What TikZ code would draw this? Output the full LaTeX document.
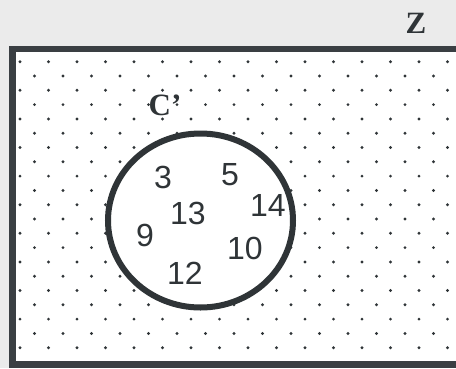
\documentclass[tikz,border=0pt]{standalone}
\usepackage{fontspec}
\setmainfont{Liberation Serif}
\newfontfamily\numfont{Liberation Sans}
\usetikzlibrary{shapes.geometric}
\definecolor{cframe}{HTML}{3A3F43}
\definecolor{cpaper}{HTML}{EBEBEB}
\definecolor{cink}{HTML}{2F3437}
\tikzset{
  elem/.style={font=\numfont\fontsize{32}{32}\selectfont, text=cink, inner sep=0pt},
  setlbl/.style={font=\bfseries\fontsize{31}{31}\selectfont, text=cink, inner sep=0pt},
  setc/.style={draw=cink, line width=6pt, fill=white, ellipse, minimum width=185pt, minimum height=174pt, inner sep=0pt},
  frame/.style={draw=cframe, line width=6.5pt, fill=white},
}

\begin{document}
\begin{tikzpicture}[x=1pt, y=-1pt]
\useasboundingbox (0,0) rectangle (456,368);
\clip (0,0) rectangle (456,368);
\fill[cpaper] (0,0) rectangle (456,368);
% universe
\draw[frame] (12.5,49.2) rectangle (470,364.6);
\node[setlbl] (lz) at (416,23) {Z};
\foreach \j in {0,2,...,20}
  \foreach \k in {0,...,15}
    \fill[cink] (20+28.5*\k, 61.7+14.3*\j) circle (1.6);
\foreach \j in {1,3,...,19}
  \foreach \k in {0,...,14}
    \fill[cink] (34.5+28.5*\k, 61.7+14.3*\j) circle (1.6);
% set C'
\node[setc] (c) at (200.5,220.5) {};
\node[setlbl] (lc) at (165,105) {C'};
\node[elem] (e3) at (163,177) {3};
\node[elem] (e5) at (230,175) {5};
\node[elem] (e14) at (268,205) {14};
\node[elem] (e13) at (188,213) {13};
\node[elem] (e9) at (145,235) {9};
\node[elem] (e10) at (245,248) {10};
\node[elem] (e12) at (185,273) {12};
\end{tikzpicture}
\end{document}
